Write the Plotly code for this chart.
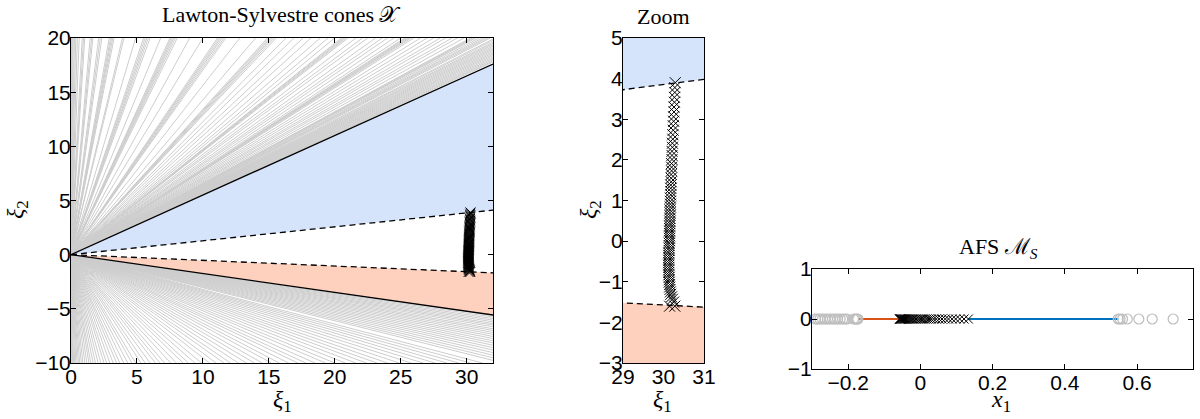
import plotly.graph_objects as go

W, H = 1200, 419

# ---- cone boundaries (slopes of rays through the origin) ----
upper_solid_slope = 0.55
upper_dashed_slope = 0.1285
lower_dashed_slope = -0.0524
lower_solid_slope = -0.174
xi1_end = 32.0

# ---- grey rays: where each ray leaves the left panel ----
upper_top_x = [0.04, 0.1, 0.17, 0.26, 0.36, 0.48, 0.62, 0.85, 0.95, 1.04, 1.45, 1.56, 1.66, 2.1, 2.22,
               2.34, 2.9, 3.0, 3.08, 3.17, 3.27, 3.9, 4.02, 4.9, 5.5, 5.62, 5.74, 5.86, 6.0, 6.8, 7.5,
               7.6, 7.7, 7.8, 7.92, 8.06, 9.0, 10.0, 11.1, 11.22, 11.34, 11.46, 11.6, 11.74, 12.8, 14.0,
               14.9, 15.02, 15.14, 15.26, 15.4, 15.56, 16.3, 16.9, 17.6, 18.2, 18.9, 19.5, 20.0, 20.5,
               20.62, 20.74, 20.86, 21.0, 21.6, 22.1, 22.5, 23.1, 23.6, 24.0, 24.5, 25.0, 25.3, 25.42,
               25.54, 25.66, 25.8, 26.0, 26.5, 27.0, 27.5, 28.0, 28.4, 28.9, 29.3, 29.8, 30.3, 30.42,
               30.56, 30.7, 30.95, 31.2, 31.4, 31.6, 31.8]
upper_right_y = [19.9, 19.78, 19.62, 19.5, 19.38, 19.25, 19.12, 19.0, 18.88, 18.75, 18.62, 18.5,
                 18.38, 18.25, 18.12, 18.0, 17.88, 17.78]
lower_bottom_x = [0.05, 0.12, 0.2, 0.28, 0.37, 0.46, 0.56, 0.66, 0.78, 0.9, 1.05, 1.2, 1.36, 1.5, 1.68,
                  1.86, 2.06, 2.26, 2.5, 2.7, 2.95, 3.2, 3.46, 3.7, 4.0, 4.3, 4.62, 4.9, 5.3, 5.62,
                  6.0, 6.4, 6.75, 7.1, 7.56, 8.0, 8.5, 8.9, 9.4, 9.9, 10.5, 11.0, 11.6, 12.1, 12.7,
                  13.3, 13.9, 14.5, 15.2, 15.8, 16.5, 17.2, 17.8, 18.5, 19.3, 20.0, 20.8, 21.6, 22.4,
                  23.2, 24.0, 24.9, 25.8, 26.7, 27.6, 28.5, 29.4, 30.3, 31.2]
lower_right_y = [-5.75, -5.9, -6.05, -6.2, -6.36, -6.5, -6.66, -6.84, -7.0, -7.18, -7.36, -7.55,
                 -7.74, -7.95, -8.15, -8.36, -8.58, -8.8, -9.04, -9.28, -9.52, -9.76]

# ---- computed points (xi1, xi2) ----
pts_xi1 = [30.29, 30.28, 30.28, 30.27, 30.27, 30.26, 30.26, 30.25, 30.25, 30.24, 30.24, 30.23, 30.23,
           30.22, 30.22, 30.21, 30.21, 30.21, 30.20, 30.20, 30.20, 30.19, 30.19, 30.19, 30.18, 30.18,
           30.18, 30.18, 30.17, 30.17, 30.17, 30.17, 30.16, 30.16, 30.16, 30.16, 30.16, 30.16, 30.15,
           30.15, 30.15, 30.15, 30.15, 30.15, 30.15, 30.14, 30.14, 30.14, 30.14, 30.13, 30.13, 30.13,
           30.13, 30.13, 30.13, 30.13, 30.13, 30.13, 30.13, 30.14, 30.14, 30.14, 30.15, 30.15, 30.16,
           30.17, 30.18, 30.20, 30.22, 30.25, 30.15, 30.28]
pts_xi2 = [3.90, 3.78, 3.66, 3.54, 3.42, 3.30, 3.18, 3.06, 2.95, 2.84, 2.73, 2.62, 2.51, 2.41, 2.31,
           2.21, 2.11, 2.01, 1.91, 1.82, 1.73, 1.64, 1.55, 1.46, 1.38, 1.30, 1.22, 1.14, 1.06, 0.98,
           0.91, 0.84, 0.77, 0.70, 0.63, 0.56, 0.49, 0.43, 0.37, 0.31, 0.25, 0.19, 0.13, 0.07, 0.01,
           -0.05, -0.11, -0.17, -0.23, -0.29, -0.35, -0.41, -0.47, -0.53, -0.59, -0.65, -0.71, -0.77,
           -0.83, -0.89, -0.95, -1.01, -1.07, -1.13, -1.19, -1.25, -1.31, -1.37, -1.43, -1.50, -1.60,
           -1.60]

# ---- AFS panel ----
afs_x_marks = [0.133, 0.121, 0.109, 0.098, 0.088, 0.078, 0.069, 0.060, 0.052, 0.044, 0.037, 0.030,
               0.024, 0.018, 0.012, 0.007, 0.002, -0.003, -0.008, -0.012, -0.016, -0.020, -0.024,
               -0.027, -0.030, -0.033, -0.036, -0.039, -0.041, -0.043, -0.045, -0.047, -0.049,
               -0.051, -0.053, -0.054, -0.055, -0.056, -0.057, -0.058]
afs_circles_left = [-0.290, -0.284, -0.278, -0.271, -0.264, -0.257, -0.250, -0.243, -0.236, -0.229,
                    -0.222, -0.215, -0.209, -0.203, -0.185, -0.180, -0.176, -0.173]
afs_circles_right = [0.548, 0.553, 0.560, 0.573, 0.605, 0.642, 0.700]
afs_orange = [-0.172, -0.058]
afs_blue = [0.133, 0.548]

GREY = "#cdcdcd"
BLUE_FILL = "#d6e4fb"
RED_FILL = "#fdd1be"
ORANGE = "#d95319"
BLUE = "#0072bd"


def px(x):
    return x / W


def py(y):
    return 1 - y / H


fig = go.Figure()

# grey rays
rx, ry = [], []
for x in upper_top_x:
    rx += [0, x, None]
    ry += [0, 20, None]
for y in upper_right_y:
    rx += [0, xi1_end, None]
    ry += [0, y, None]
for x in lower_bottom_x:
    rx += [0, x, None]
    ry += [0, -10, None]
for y in lower_right_y:
    rx += [0, xi1_end, None]
    ry += [0, y, None]
fig.add_trace(go.Scatter(x=rx, y=ry, mode="lines", line=dict(color=GREY, width=1),
                         xaxis="x", yaxis="y", hoverinfo="skip"))


def cone_traces(xa, ya, msize):
    out = []
    out.append(go.Scatter(x=[0, xi1_end, xi1_end, 0], y=[0, upper_solid_slope * xi1_end,
                                                         upper_dashed_slope * xi1_end, 0],
                          fill="toself", fillcolor=BLUE_FILL, mode="lines", line=dict(width=0),
                          xaxis=xa, yaxis=ya))
    out.append(go.Scatter(x=[0, xi1_end, xi1_end, 0], y=[0, lower_dashed_slope * xi1_end,
                                                         lower_solid_slope * xi1_end, 0],
                          fill="toself", fillcolor=RED_FILL, mode="lines", line=dict(width=0),
                          xaxis=xa, yaxis=ya))
    for s in (upper_solid_slope, lower_solid_slope):
        out.append(go.Scatter(x=[0, xi1_end], y=[0, s * xi1_end], mode="lines",
                              line=dict(color="black", width=1.3), xaxis=xa, yaxis=ya))
    for s in (upper_dashed_slope, lower_dashed_slope):
        out.append(go.Scatter(x=[0, xi1_end], y=[0, s * xi1_end], mode="lines",
                              line=dict(color="black", width=1.3, dash="6px,4px"),
                              xaxis=xa, yaxis=ya))
    out.append(go.Scatter(x=pts_xi1, y=pts_xi2, mode="markers",
                          marker=dict(symbol="x-thin-open", size=msize, color="black",
                                      line=dict(width=1, color="black")),
                          xaxis=xa, yaxis=ya))
    return out


for t in cone_traces("x", "y", 10):
    fig.add_trace(t)
for t in cone_traces("x2", "y2", 11):
    fig.add_trace(t)

# AFS panel
fig.add_trace(go.Scatter(x=afs_orange, y=[0, 0], mode="lines", line=dict(color=ORANGE, width=2),
                         xaxis="x3", yaxis="y3"))
fig.add_trace(go.Scatter(x=afs_blue, y=[0, 0], mode="lines", line=dict(color=BLUE, width=2),
                         xaxis="x3", yaxis="y3"))
fig.add_trace(go.Scatter(x=afs_circles_left + afs_circles_right,
                         y=[0] * (len(afs_circles_left) + len(afs_circles_right)),
                         mode="markers",
                         marker=dict(symbol="circle-open", size=10, color="#bdbdbd",
                                     line=dict(width=1.2, color="#bdbdbd")),
                         xaxis="x3", yaxis="y3"))
fig.add_trace(go.Scatter(x=afs_x_marks, y=[0] * len(afs_x_marks), mode="markers",
                         marker=dict(symbol="x-thin-open", size=9, color="black",
                                     line=dict(width=1, color="black")),
                         xaxis="x3", yaxis="y3"))

tickfont = dict(family="Liberation Sans, Arial, sans-serif", size=21, color="black")
axis_common = dict(showline=True, linecolor="black", linewidth=1, mirror="ticks",
                   ticks="inside", ticklen=5, tickcolor="black", tickwidth=1, automargin=False,
                   showgrid=False, zeroline=False, tickfont=tickfont, fixedrange=True,
                   ticklabelstandoff=-5)

p1 = dict(l=71, r=493, t=38, b=363)
p2 = dict(l=623, r=704, t=38, b=363)
p3 = dict(l=812, r=1193, t=269, b=369)

fig.update_layout(
    width=W, height=H, margin=dict(l=0, r=0, t=0, b=0, autoexpand=False),
    paper_bgcolor="white", plot_bgcolor="white", showlegend=False,
    xaxis=dict(domain=[px(p1["l"]), px(p1["r"])], range=[0, 32], anchor="y",
               tickvals=[0, 5, 10, 15, 20, 25, 30], **axis_common),
    yaxis=dict(domain=[py(p1["b"]), py(p1["t"])], range=[-10, 20], anchor="x",
               tickvals=[-10, -5, 0, 5, 10, 15, 20], **axis_common),
    xaxis2=dict(domain=[px(p2["l"]), px(p2["r"])], range=[29, 31], anchor="y2",
                tickvals=[29, 30, 31], layer="below traces", **axis_common),
    yaxis2=dict(domain=[py(p2["b"]), py(p2["t"])], range=[-3, 5], anchor="x2",
                tickvals=[-3, -2, -1, 0, 1, 2, 3, 4, 5], layer="below traces", **axis_common),
    xaxis3=dict(domain=[px(p3["l"]), px(p3["r"])], range=[-0.3, 0.755], anchor="y3",
                tickvals=[-0.2, 0, 0.2, 0.4, 0.6], ticktext=["\u22120.2", "0", "0.2", "0.4", "0.6"],
                **axis_common),
    yaxis3=dict(domain=[py(p3["b"]), py(p3["t"])], range=[-1, 1], anchor="x3",
                tickvals=[-1, 0, 1], **axis_common),
)

serif = "Liberation Serif, Times New Roman, serif"


def label(text, x, y, size=22, angle=0):
    fig.add_annotation(text=text, x=px(x), y=py(y), xref="paper", yref="paper",
                       showarrow=False, textangle=angle, xanchor="center", yanchor="middle",
                       font=dict(family=serif, size=size, color="black"))


label("Lawton-Sylvestre cones 𝒳", 281, 15)
label("Zoom", 663, 16)
label("AFS ℳ<sub><i>S</i></sub>", 998, 248)
label("<i>ξ</i><sub>1</sub>", 282, 401, size=24)
label("<i>ξ</i><sub>1</sub>", 662, 401, size=24)
label("<i>x</i><sub>1</sub>", 1001, 401, size=24)
label("<i>ξ</i><sub>2</sub>", 17, 210, size=24, angle=-90)
label("<i>ξ</i><sub>2</sub>", 590, 210, size=24, angle=-90)

fig.write_html("out.html")
